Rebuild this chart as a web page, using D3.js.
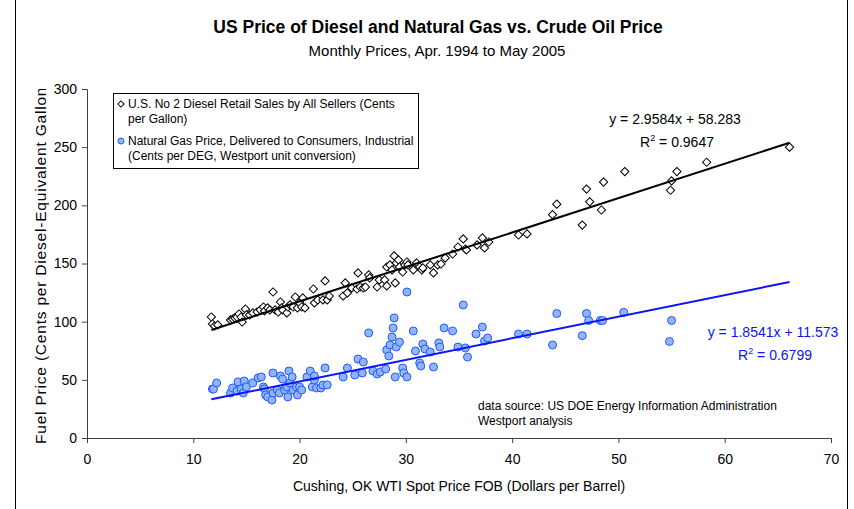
<!DOCTYPE html>
<html>
<head>
<meta charset="utf-8">
<script src="https://cdn.jsdelivr.net/npm/d3@7"></script>
<style>
  body { margin: 0; background: #fff; }
  svg { font-family: "Liberation Sans", Arial, sans-serif; }
</style>
</head>
<body>
<div id="chart"></div>
<script>
// WTI spot price (x) and diesel retail price (y), cents per gallon
const dieselX = [11.7, 11.8, 12.0, 12.3, 13.5, 13.7, 13.9, 14.1, 14.3, 14.5, 14.6, 14.9, 15.0, 15.3, 15.6, 16.0,
  16.3, 16.6, 16.7, 17.0, 17.2, 17.5, 17.7, 18.0, 18.2, 18.3, 18.4, 18.8, 18.9, 19.1, 19.4, 19.6, 19.8, 20.0,
  20.2, 20.3, 20.5, 21.3, 21.4, 21.7, 22.2, 22.4, 22.6, 22.8, 24.1, 24.3, 24.5, 24.9, 25.4, 25.5, 25.7, 26.0,
  26.2, 26.5, 26.6, 27.3, 27.5, 28.0, 28.2, 28.2, 28.5, 28.7, 28.9, 29.0, 29.1, 29.3, 29.4, 29.7, 29.9, 30.1,
  30.2, 30.7, 31.0, 31.3, 31.5, 31.6, 32.3, 32.6, 33.0, 33.3, 33.7, 34.4, 34.9, 35.4, 35.6, 35.7, 36.7, 37.2,
  37.4, 37.8, 40.6, 41.4, 43.8, 44.2, 46.6, 47.0, 47.3, 48.4, 48.6, 50.6, 54.9, 55.0, 55.5, 58.3, 66.1];
const dieselY = [104.0, 98.0, 96.3, 97.2, 101.5, 102.3, 103.2, 104.0, 106.6, 104.0, 99.7, 110.9, 105.8, 105.8,
  107.5, 108.3, 110.1, 112.6, 109.2, 111.8, 110.1, 125.5, 110.1, 108.3, 116.9, 111.8, 110.1, 107.5, 112.6,
  114.4, 112.6, 121.2, 111.8, 116.1, 112.6, 120.4, 111.8, 128.1, 116.1, 118.7, 118.7, 135.0, 118.7, 122.1,
  122.1, 133.3, 124.7, 129.0, 128.1, 141.9, 129.8, 129.0, 129.8, 140.2, 137.6, 129.8, 135.9, 135.9, 130.7,
  147.0, 148.8, 144.5, 156.5, 133.3, 150.5, 153.1, 147.0, 142.7, 148.8, 151.3, 148.8, 144.5, 150.5, 147.0,
  144.5, 146.2, 148.8, 141.9, 148.8, 149.6, 154.8, 158.2, 164.2, 171.1, 162.5, 161.7, 166.0, 172.0, 163.4,
  168.5, 174.5, 175.4, 192, 201, 183, 214, 203, 196, 220, 229, 213, 221, 229, 237, 250];

// WTI spot price (x) and natural gas price (y), cents per diesel-equivalent gallon
const gasX = [11.8, 11.9, 12.2, 13.5, 13.7, 14.1, 14.2, 14.5, 14.7, 14.8, 15.0, 15.6, 16.1, 16.4, 16.6, 16.7,
  16.8, 17.0, 17.4, 17.5, 17.5, 17.9, 18.1, 18.2, 18.4, 18.6, 18.8, 18.9, 19.0, 19.1, 19.3, 19.4, 19.7, 19.8,
  20.0, 20.2, 20.7, 21.0, 21.2, 21.4, 21.4, 21.6, 22.0, 22.2, 22.4, 22.6, 24.1, 24.5, 25.2, 25.5, 25.9, 26.0,
  26.5, 26.9, 27.3, 27.6, 28.1, 28.2, 28.4, 28.5, 28.7, 28.8, 28.9, 29.0, 29.1, 29.4, 29.7, 29.8, 30.1, 30.1,
  30.7, 30.9, 31.3, 31.4, 31.6, 31.8, 32.3, 32.6, 33.1, 33.2, 33.6, 34.4, 34.9, 35.4, 35.6, 35.8, 36.6, 37.2,
  37.4, 37.7, 40.6, 41.4, 43.8, 44.2, 46.6, 47.0, 47.2, 48.3, 48.5, 50.5, 54.8, 55.0];
const gasY = [42.1, 42.1, 47.3, 38.7, 43.0, 40.4, 48.2, 42.1, 38.7, 49.0, 43.9, 47.3, 51.6, 52.5, 43.9, 42.1,
  37.0, 35.3, 32.7, 55.9, 38.7, 41.3, 38.7, 53.3, 50.7, 41.3, 43.9, 35.3, 57.6, 47.3, 52.5, 41.3, 43.9, 37.0,
  43.9, 41.3, 52.5, 57.6, 43.9, 49.9, 53.3, 43.0, 43.0, 45.6, 60.2, 45.6, 52.5, 60.2, 54.2, 67.9, 55.9, 65.3,
  90.3, 57.6, 55.0, 56.8, 59.3, 75.7, 70.5, 80.0, 86.8, 94.6, 103.2, 52.5, 78.2, 82.5, 60.2, 55.9, 125.5, 52.5,
  92.0, 74.8, 64.5, 61.9, 80.8, 76.5, 73.9, 61.0, 81.7, 78.2, 94.6, 92.0, 78.2, 114.4, 77.4, 69.6, 89.4, 95.4,
  83.4, 86.0, 89.4, 89.4, 80, 107, 88, 107, 101, 101, 101, 108, 83, 101];

// linear trendlines (slope, intercept, R squared) and their x range
const dieselFit = [2.9584, 58.283, 0.9647];
const gasFit = [1.8541, 11.573, 0.6799];
const fitRange = [11.7, 66.1];

const xTicks = [0, 10, 20, 30, 40, 50, 60, 70];
const yTicks = [0, 50, 100, 150, 200, 250, 300];

const titleText = 'US Price of Diesel and Natural Gas vs. Crude Oil Price';
const subtitleText = 'Monthly Prices, Apr. 1994 to May 2005';
const xLabel = 'Cushing, OK WTI Spot Price FOB (Dollars per Barrel)';
const yLabel = 'Fuel Price (Cents per Diesel-Equivalent Gallon)';
const legendLines = [
  ['U.S. No 2 Diesel Retail Sales by All Sellers (Cents', 'per Gallon)'],
  ['Natural Gas Price, Delivered to Consumers, Industrial', '(Cents per DEG, Westport unit conversion)']
];
const sourceLines = ['data source:  US DOE Energy Information Administration', 'Westport analysis'];

const width = 854, height = 509;
const gasFill = '#8fb5ff', gasStroke = '#2457ff', gasLine = '#0a14f5';

const svg = d3.select('#chart').append('svg')
  .attr('width', width)
  .attr('height', height);

const x = d3.scaleLinear().domain([0, 70]).range([87, 831]);
const y = d3.scaleLinear().domain([0, 300]).range([438, 89]);

// chart area border (only the sides show)
svg.append('line').attr('x1', 15.5).attr('x2', 15.5).attr('y1', 0).attr('y2', height).attr('stroke', '#000');
svg.append('line').attr('x1', 847.5).attr('x2', 847.5).attr('y1', 0).attr('y2', height).attr('stroke', '#000');

/* ----------titles------------*/
svg.append('text')
  .attr('x', 438).attr('y', 33)
  .attr('text-anchor', 'middle')
  .attr('font-weight', 'bold')
  .style('font-size', '17.5px')
  .text(titleText);
svg.append('text')
  .attr('x', 437).attr('y', 56)
  .attr('text-anchor', 'middle')
  .style('font-size', '15px')
  .text(subtitleText);

/* ----------axes------------*/
const xAxis = d3.axisBottom(x).tickValues(xTicks).tickSize(5).tickPadding(11);
const yAxis = d3.axisLeft(y).tickValues(yTicks).tickSize(5).tickPadding(5);

const gx = svg.append('g').attr('transform', 'translate(0,' + y(0) + ')').call(xAxis);
const gy = svg.append('g').attr('transform', 'translate(' + x(0) + ',0)').call(yAxis);
[gx, gy].forEach(g => {
  g.select('.domain').attr('stroke', '#404040');
  g.selectAll('.tick line').attr('stroke', '#404040');
  g.selectAll('.tick text')
    .attr('fill', '#000')
    .style('font-size', '14px')
    .style('font-family', '"Liberation Sans", Arial, sans-serif');
});

svg.append('text')
  .attr('x', (x(0) + x(70)) / 2).attr('y', 491)
  .attr('text-anchor', 'middle')
  .style('font-size', '14px')
  .text(xLabel);

// y label is clipped at the top, as in the original
svg.append('clipPath').attr('id', 'ylab-clip')
  .append('rect').attr('x', 20).attr('y', 89).attr('width', 40).attr('height', 370);
svg.append('g')
  .attr('clip-path', 'url(#ylab-clip)')
  .append('text')
  .attr('transform', 'translate(46,444) rotate(-90)')
  .attr('text-anchor', 'start')
  .style('font-size', '15.5px')
  .style('letter-spacing', '0.8px')
  .text(yLabel);

/* ----------points------------*/
const diamond = d3.symbol(d3.symbolSquare, 34)();

svg.append('g').selectAll('path')
  .data(dieselX.map((v, i) => [v, dieselY[i]]))
  .enter().append('path')
  .attr('d', diamond)
  .attr('transform', d => 'translate(' + x(d[0]) + ',' + y(d[1]) + ') rotate(45)')
  .attr('fill', '#fff')
  .attr('stroke', '#000')
  .attr('stroke-width', 1);

svg.append('g').selectAll('circle')
  .data(gasX.map((v, i) => [v, gasY[i]]))
  .enter().append('circle')
  .attr('cx', d => x(d[0]))
  .attr('cy', d => y(d[1]))
  .attr('r', 4)
  .attr('fill', gasFill)
  .attr('stroke', gasStroke)
  .attr('stroke-width', 1);

/* ----------trendlines------------*/
const line = d3.line().x(d => x(d[0])).y(d => y(d[1]));
[[dieselFit, '#000'], [gasFit, gasLine]].forEach(([fit, color]) => {
  svg.append('path')
    .datum(fitRange.map(v => [v, fit[0] * v + fit[1]]))
    .attr('d', line)
    .attr('fill', 'none')
    .attr('stroke', color)
    .attr('stroke-width', 2);
});

function fitLabel(fit, cx, cy, color) {
  svg.append('text')
    .attr('x', cx).attr('y', cy)
    .attr('text-anchor', 'middle')
    .attr('fill', color)
    .style('font-size', '14px')
    .text('y = ' + fit[0] + 'x + ' + fit[1]);
  const r = svg.append('text')
    .attr('x', cx + 2).attr('y', cy + 23)
    .attr('text-anchor', 'middle')
    .attr('fill', color)
    .style('font-size', '14px');
  r.append('tspan').text('R');
  r.append('tspan').attr('dy', -6).style('font-size', '9px').text('2');
  r.append('tspan').attr('dy', 6).text(' = ' + fit[2]);
}
fitLabel(dieselFit, 675, 124, '#000');
fitLabel(gasFit, 773, 337, gasLine);

/* ----------legend------------*/
const legend = svg.append('g');
legend.append('rect')
  .attr('x', 113.5).attr('y', 93.5).attr('width', 305).attr('height', 75)
  .attr('fill', '#fff').attr('stroke', '#000');
const legendY = [[108, 123], [145, 160]];
legendLines.forEach((lines, i) => {
  lines.forEach((s, j) => {
    legend.append('text')
      .attr('x', 128).attr('y', legendY[i][j])
      .style('font-size', '12px')
      .text(s);
  });
});
legend.append('path')
  .attr('d', d3.symbol(d3.symbolSquare, 20)())
  .attr('transform', 'translate(121,104) rotate(45)')
  .attr('fill', '#fff').attr('stroke', '#000');
legend.append('circle')
  .attr('cx', 121).attr('cy', 141).attr('r', 3)
  .attr('fill', gasFill).attr('stroke', gasStroke);

/* ----------source note------------*/
sourceLines.forEach((s, i) => {
  svg.append('text')
    .attr('x', 478).attr('y', 410 + i * 15)
    .style('font-size', '12px')
    .text(s);
});
</script>
</body>
</html>
